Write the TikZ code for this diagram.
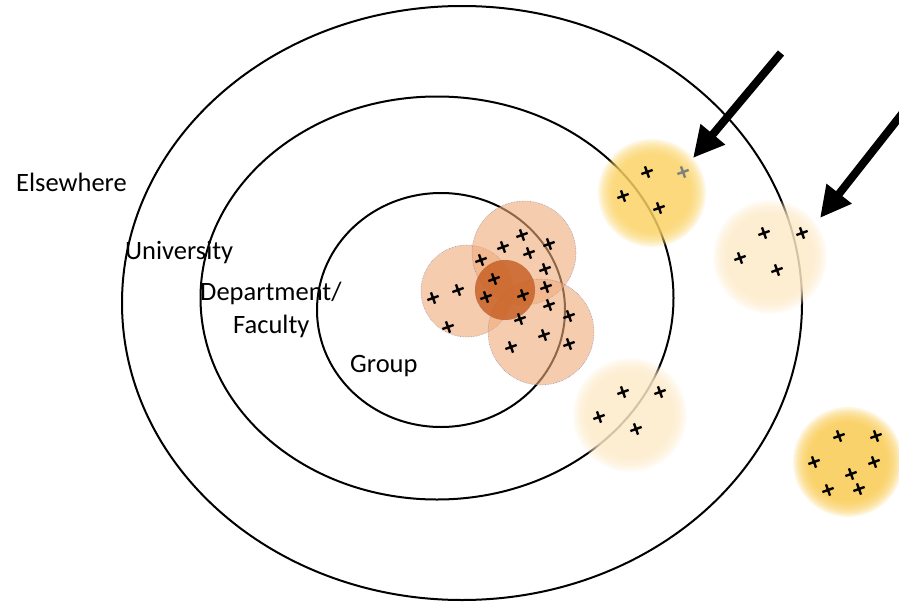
\documentclass[tikz,border=0pt]{standalone}
\usepackage{fontspec}
\setmainfont{Carlito}
\usetikzlibrary{arrows.meta}
\definecolor{peach}{RGB}{240,170,122}
\definecolor{burnt}{RGB}{200,98,38}
\definecolor{blobyellow}{RGB}{249,202,80}
\definecolor{blobyellowlt}{RGB}{250,210,100}
\definecolor{blobpale}{RGB}{253,234,200}
\definecolor{rimgray}{RGB}{120,120,150}
\newcommand\softblob[3]{\foreach \k in {0,...,9}{\fill[#1, fill opacity=0.17] #2 circle ({#3-1.7*\k});}}
\begin{document}
\begin{tikzpicture}[x=1pt,y=-1pt,
  ring/.style={line width=2pt, black},
  member/.style={fill=peach, fill opacity=0.6, draw=rimgray, draw opacity=0.7, densely dotted, line width=0.6pt},
  core/.style={fill=burnt, fill opacity=0.85, draw=rimgray, draw opacity=0.5, densely dotted, line width=0.5pt},
  lbl/.style={anchor=base west, inner sep=0pt, font=\fontsize{26.5}{33}\selectfont},
  bigarrow/.style={line width=8pt, -{Triangle[length=31pt,width=30pt]}},
  plus/.pic={\draw[line width=2.4pt] (-6,0)--(6,0) (0,-6)--(0,6);}
]
\useasboundingbox (0,0) rectangle (899,602);
\clip (0,0) rectangle (899,602);

% rings
\draw[ring] (462,303) ellipse [x radius=340, y radius=297];
\draw[ring] (437,298) ellipse [x radius=236.5, y radius=201.5];
\draw[ring] (441,310) ellipse [x radius=124, y radius=117];

% soft blobs
\softblob{blobyellowlt}{(652,193)}{54}
\softblob{blobpale}{(770,257)}{57}
\softblob{blobpale}{(630,415)}{57}
\softblob{blobyellow}{(848,462)}{55}

% group cluster
\path[member] (467,291) circle (46);
\path[member] (524,253) circle (52);
\path[member] (541,332) circle (53);
\path[core] (505,290) circle (30);

% crosses in cluster
\foreach \p in {(433,298),(458,290),(448,327),(481,260),
                (494,279),(486,297),(523,295),
                (522,235),(549,244),(503,247),(529,253),(545,269),(546,287),
                (549,305),(520,319),(569,316),(544,335),(569,344),(511,347)}
  \pic[rotate=20] at \p {plus};

% crosses in blobs
\foreach \p in {(647,172),(623,196),(659,208),
                (764,233),(802,233),(740,258),(777,270),
                (623,392),(660,392),(599,417),(636,429),
                (839,436),(876,436),(814,462),(874,462),(851,474),(828,490),(859,489)}
  \pic[rotate=20] at \p {plus};
\pic[rotate=20, gray] at (683,172) {plus};

% labels
\node[lbl] (elsewhere) at (16,191) {Elsewhere};
\node[lbl] (university) at (125,259) {University};
\node[lbl] (department) at (200,300) {Department/};
\node[lbl] (faculty) at (233,333) {Faculty};
\node[lbl] (group) at (350,372) {Group};

% arrows
\coordinate (a1s) at (781,53);
\coordinate (a1e) at (693,158);
\coordinate (a2s) at (905,110);
\coordinate (a2e) at (820,218);
\draw[bigarrow] (a1s) -- (a1e);
\draw[bigarrow] (a2s) -- (a2e);
\end{tikzpicture}
\end{document}
